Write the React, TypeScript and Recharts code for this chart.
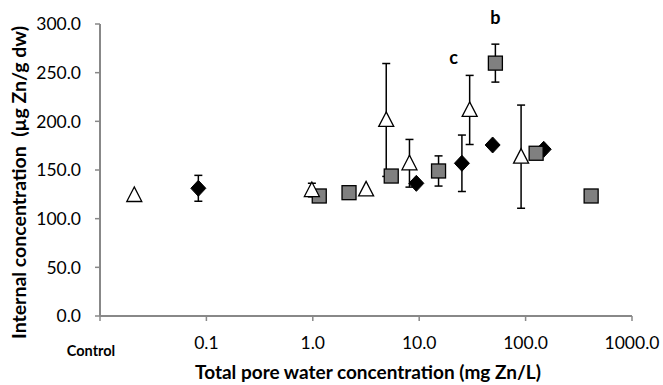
import React from 'react';
import { ScatterChart, Scatter, XAxis, YAxis, ErrorBar, ReferenceDot } from 'recharts';

// Open triangles
const triX = [0.021, 0.98, 3.17, 4.9, 8.1, 29.8, 90.7];
const triY = [124.3, 129.4, 130.1, 201.4, 156.9, 211.7, 163.7];
const triErr: (number | null)[] = [null, 7, null, 58, 24.5, 35.5, 53];

// Black diamonds
const diaX = [0.084, 9.4, 25.2, 49, 148];
const diaY = [131.2, 136.3, 156.9, 175.7, 171.3];
const diaErr: (number | null)[] = [13.3, null, 29, null, null];

// Grey squares
const sqX = [1.15, 2.19, 5.46, 15.2, 52, 125.6, 413];
const sqY = [123.3, 126.7, 143.8, 149, 259.8, 167.2, 123.3];
const sqErr: (number | null)[] = [null, null, null, 15.5, 19.5, null, null];

// Annotations
const annX = [52, 21];
const annY = [307, 265];
const annText = ['b', 'c'];

const xTicks = [0.01, 0.1, 1, 10, 100, 1000];
const yTicks = [0, 50, 100, 150, 200, 250, 300];

const build = (xs: number[], ys: number[], es: (number | null)[]) =>
  xs.map((x, i) => ({ x, y: ys[i], err: es[i] === null ? undefined : es[i] }));

const triData = build(triX, triY, triErr);
const diaData = build(diaX, diaY, diaErr);
const sqData = build(sqX, sqY, sqErr);

const FONT = 'Lato, "Open Sans", sans-serif';

const Triangle = (p: any) => {
  const { cx, cy } = p;
  return (
    <polygon
      points={`${cx},${cy - 8} ${cx - 7.5},${cy + 6.5} ${cx + 7.5},${cy + 6.5}`}
      fill="#ffffff"
      stroke="#000"
      strokeWidth={1.3}
    />
  );
};
const Diamond = (p: any) => {
  const { cx, cy } = p;
  return (
    <polygon
      points={`${cx},${cy - 8} ${cx + 7.5},${cy} ${cx},${cy + 8} ${cx - 7.5},${cy}`}
      fill="#000"
      stroke="#000"
      strokeWidth={1}
    />
  );
};
const Square = (p: any) => {
  const { cx, cy } = p;
  return <rect x={cx - 7} y={cy - 7} width={14} height={14} fill="#808080" stroke="#000" strokeWidth={1.3} />;
};

const XTick = (p: any) => {
  const { x, y, payload } = p;
  if (payload.value === 0.01) {
    return (
      <text x={x - 9} y={y + 35} textAnchor="middle" fontFamily={FONT} fontSize={14.5} fontWeight="bold" fill="#000">
        Control
      </text>
    );
  }
  return (
    <text x={x} y={y + 28} textAnchor="middle" fontFamily={FONT} fontSize={17.5} fill="#000">
      {Number(payload.value).toFixed(1)}
    </text>
  );
};

export default function App() {
  return (
    <div style={{ position: 'absolute', left: 0, top: 0 }}>
      <ScatterChart width={663} height={385} margin={{ top: 24, right: 31, bottom: 0, left: 0 }}>
        <XAxis
          type="number"
          dataKey="x"
          scale="log"
          domain={[0.01, 1000]}
          allowDataOverflow
          ticks={xTicks}
          tick={<XTick />}
          tickSize={5}
          tickMargin={0}
          height={69}
          axisLine={{ stroke: '#888', strokeWidth: 2 }}
          tickLine={{ stroke: '#888', strokeWidth: 1.5 }}
          label={{
            content: () => (
              <text x={368} y={379} textAnchor="middle" fontFamily={FONT} fontSize={19} fontWeight="bold" fill="#000">
                Total pore water concentration (mg Zn/L)
              </text>
            ),
          }}
        />
        <YAxis
          type="number"
          dataKey="y"
          domain={[0, 300]}
          allowDataOverflow
          ticks={yTicks}
          tickFormatter={(v: number) => v.toFixed(1)}
          width={100}
          tickSize={5}
          tickMargin={14}
          tick={{ fontFamily: FONT, fontSize: 17.5, fill: '#000' }}
          axisLine={{ stroke: '#888', strokeWidth: 2 }}
          tickLine={{ stroke: '#888', strokeWidth: 1.5 }}
          label={{
            content: () => (
              <text
                transform="translate(26,182.5) rotate(-90)"
                textAnchor="middle"
                fontFamily={FONT}
                fontSize={19.5}
                fontWeight="bold"
                fill="#000"
                style={{ whiteSpace: 'pre' }}
              >
                Internal concentration  (µg Zn/g dw)
              </text>
            ),
          }}
        />
        <Scatter data={diaData} shape={<Diamond />} isAnimationActive={false}>
          <ErrorBar dataKey="err" direction="y" width={4} stroke="#000" strokeWidth={1.5} />
        </Scatter>
        <Scatter data={sqData} shape={<Square />} isAnimationActive={false}>
          <ErrorBar dataKey="err" direction="y" width={4} stroke="#000" strokeWidth={1.5} />
        </Scatter>
        <Scatter data={triData} shape={<Triangle />} isAnimationActive={false}>
          <ErrorBar dataKey="err" direction="y" width={4} stroke="#000" strokeWidth={1.5} />
        </Scatter>
        {annX.map((ax, i) => (
          <ReferenceDot
            key={annText[i]}
            x={ax}
            y={annY[i]}
            r={0}
            ifOverflow="visible"
            fill="none"
            stroke="none"
            label={{ value: annText[i], position: 'center', fontFamily: FONT, fontSize: 18, fontWeight: 'bold', fill: '#000' }}
          />
        ))}
      </ScatterChart>
    </div>
  );
}
